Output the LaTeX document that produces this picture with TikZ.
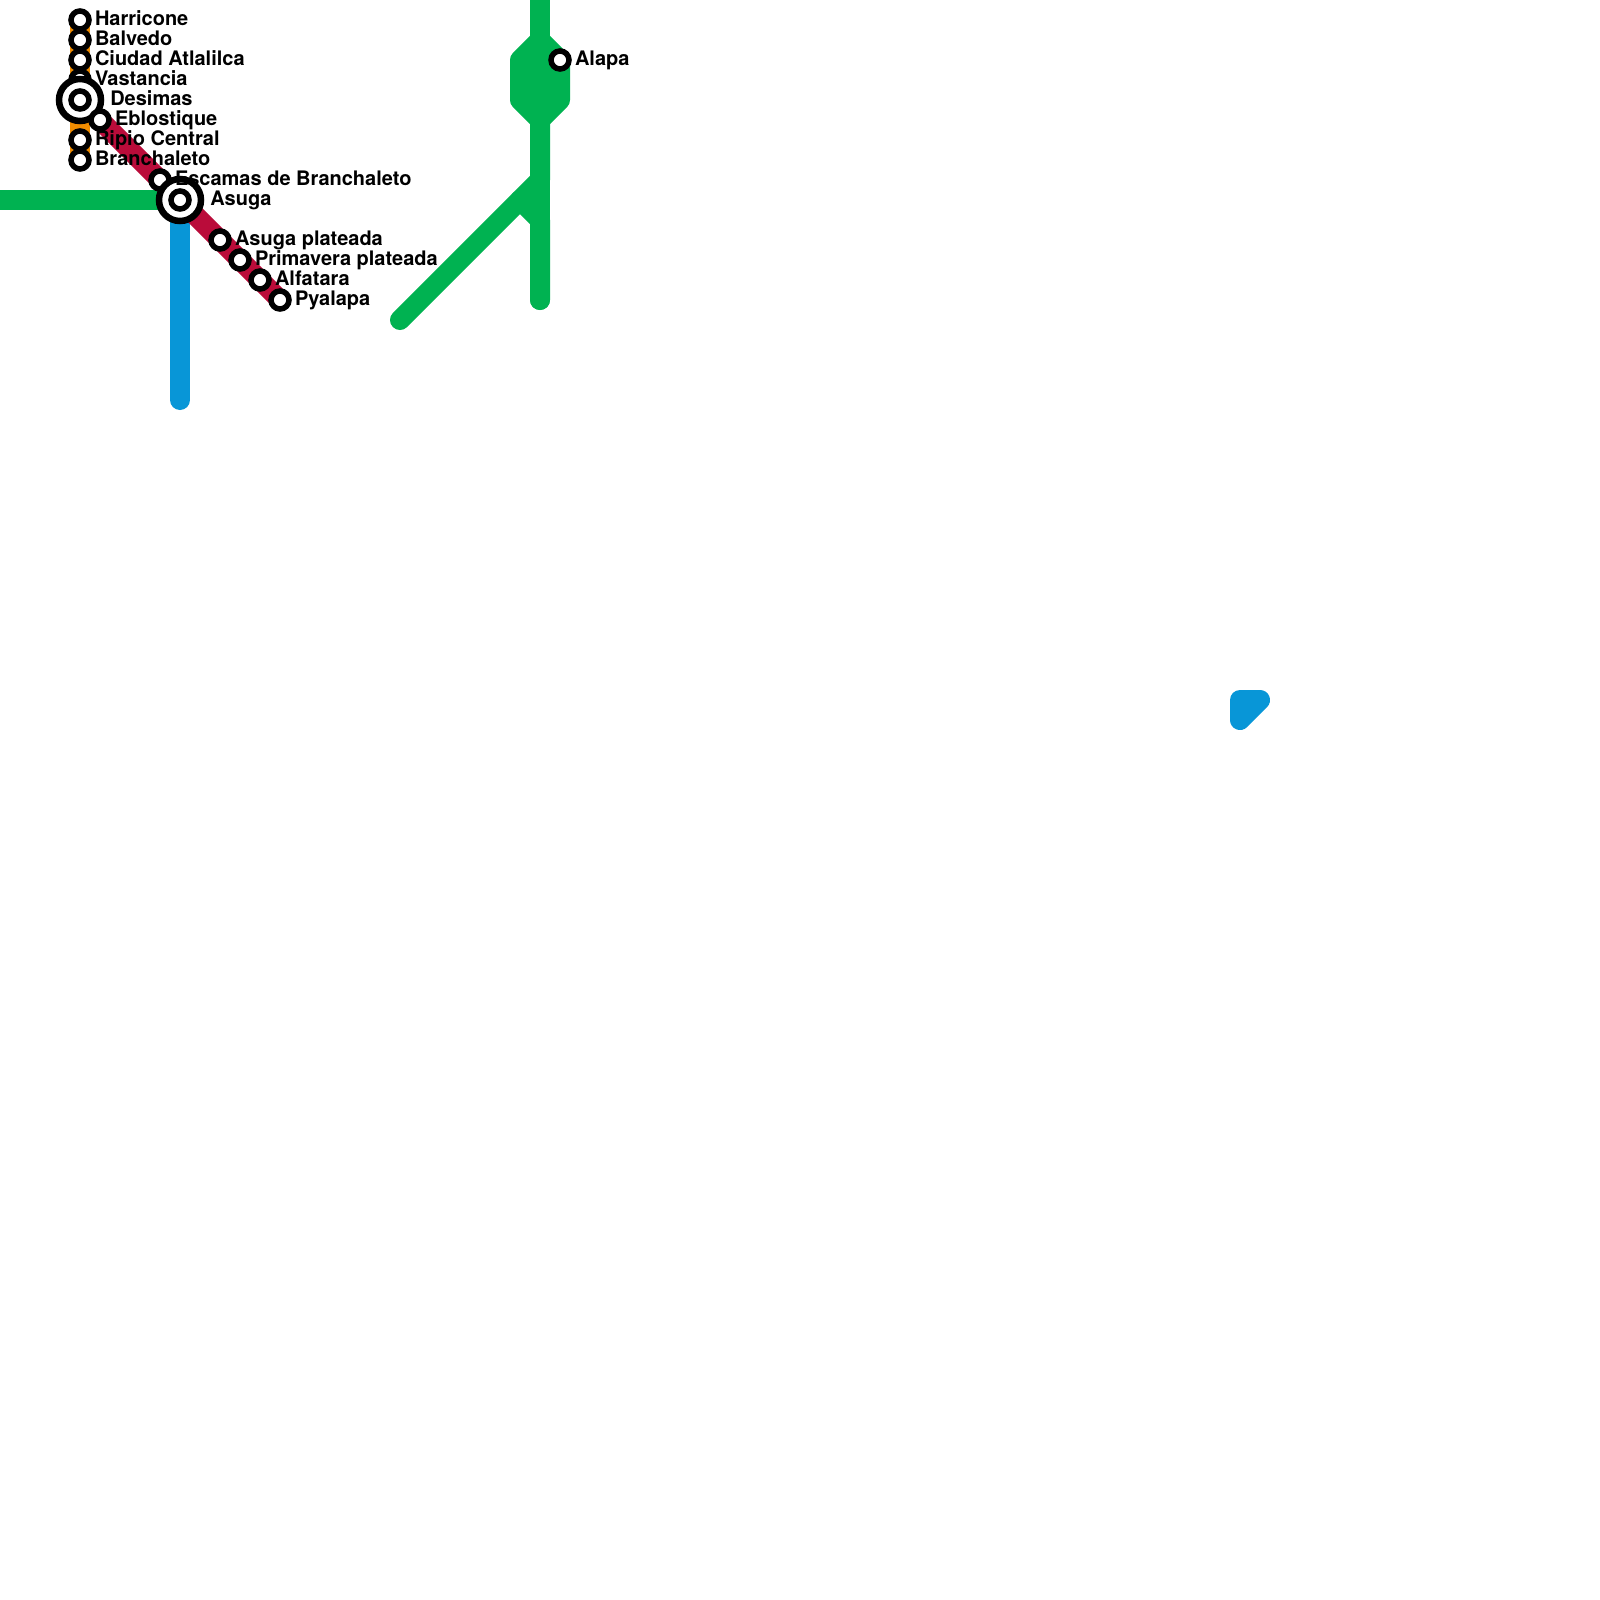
\documentclass[tikz,border=0pt]{standalone}
\usepackage{fontspec}
\setmainfont{TeX Gyre Heros}
\definecolor{lgreen}{HTML}{00B251}
\definecolor{lblue}{HTML}{0896D7}
\definecolor{lred}{HTML}{BA0C3A}
\definecolor{lorange}{HTML}{F08C00}
\tikzset{
  metro/.style={line width=20pt,line cap=round,line join=round},
  stop/.style={circle,draw=black,fill=white,line width=5.5pt,minimum size=18pt,inner sep=0pt,outer sep=0pt},
  hub/.style={circle,draw=black,fill=white,line width=6.5pt,minimum size=42pt,inner sep=0pt,outer sep=0pt},
  lab/.style={anchor=base west,inner sep=0pt,outer sep=0pt,font=\fontsize{20pt}{22pt}\selectfont\bfseries,text=black}
}
\begin{document}
\begin{tikzpicture}[x=1pt,y=-1pt]
\useasboundingbox (0,0) rectangle (1600,1600);
\clip (0,0) rectangle (1600,1600);
% line coordinates
\foreach \n/\x/\y in {har/80/20,bal/80/40,ciu/80/60,vas/80/80,des/80/100,ebl/100/120,rip/80/140,bra/80/160,
  esc/160/180,asu/180/200,asp/220/240,pri/240/260,alf/260/280,pya/280/300,ala/560/60,
  gw/-20/200,gt/540/-20,ga/540/40,gb/520/60,gc/520/100,gd/540/120,ge/560/60,gf/560/100,
  gg/540/180,gh/400/320,gi/520/200,gj/540/220,gk/540/300,bb/180/400,
  ta/1240/700,tb/1260/700,tc/1240/720}
  {\coordinate (\n) at (\x,\y);}
% lines
\draw[metro,lorange] (har) -- (bra);
\draw[metro,lgreen] (gw) -- (asu);
\draw[metro,lblue] (asu) -- (bb);
\draw[metro,lred] (ebl) -- (pya);
\draw[metro,lgreen] (gt) -- (ga);
\draw[metro,lgreen,fill=lgreen] (ga) -- (gb) -- (gc) -- (gd) -- (gf) -- (ge) -- cycle;
\draw[metro,lgreen] (gd) -- (gg) -- (gh);
\draw[metro,lgreen] (gd) -- (gk);
\draw[metro,lgreen] (gi) -- (gj) -- (gk);
\draw[metro,lblue,fill=lblue] (ta) -- (tb) -- (tc) -- cycle;
% stations
\node[stop] (nhar) at (har) {};
\node[stop] (nbal) at (bal) {};
\node[stop] (nciu) at (ciu) {};
\node[stop] (nvas) at (vas) {};
\node[hub] (hdes) at (des) {};
\node[stop] (ndes) at (des) {};
\node[stop] (nebl) at (ebl) {};
\node[stop] (nrip) at (rip) {};
\node[stop] (nbra) at (bra) {};
\node[stop] (nesc) at (esc) {};
\node[hub] (hasu) at (asu) {};
\node[stop] (nasu) at (asu) {};
\node[stop] (nasp) at (asp) {};
\node[stop] (npri) at (pri) {};
\node[stop] (nalf) at (alf) {};
\node[stop] (npya) at (pya) {};
\node[stop] (nala) at (ala) {};
% labels
\node[lab] (lhar) at (95,25.3) {Harricone};
\node[lab] (lbal) at (95,45.3) {Balvedo};
\node[lab] (lciu) at (95,65.3) {Ciudad Atlalilca};
\node[lab] (lvas) at (95,85.3) {Vastancia};
\node[lab] (ldes) at (110.3,105.3) {Desimas};
\node[lab] (lebl) at (115,125.3) {Eblostique};
\node[lab] (lrip) at (95,145.3) {Ripio Central};
\node[lab] (lbra) at (95,165.3) {Branchaleto};
\node[lab] (lesc) at (175,185.3) {Escamas de Branchaleto};
\node[lab] (lasu) at (210.3,205.3) {Asuga};
\node[lab] (lasp) at (235,245.3) {Asuga plateada};
\node[lab] (lpri) at (255,265.3) {Primavera plateada};
\node[lab] (lalf) at (275,285.3) {Alfatara};
\node[lab] (lpya) at (295,305.3) {Pyalapa};
\node[lab] (lala) at (575,65.3) {Alapa};
\end{tikzpicture}
\end{document}
